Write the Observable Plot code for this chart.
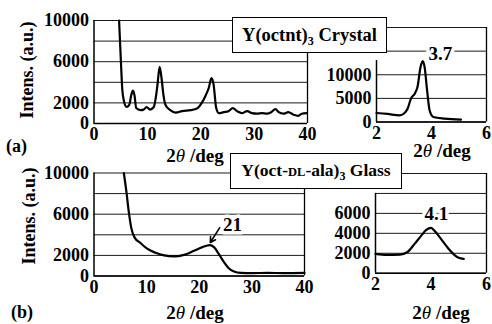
<!DOCTYPE html>
<html><head><meta charset="utf-8">
<script src="https://cdn.jsdelivr.net/npm/d3@7"></script>
<script src="https://cdn.jsdelivr.net/npm/@observablehq/plot@0.6"></script>
<style>
html,body{margin:0;padding:0;background:#fff;}
#wrap{position:relative;width:492px;height:324px;overflow:hidden;font-family:'Liberation Serif','Times New Roman',serif;}
#wrap > div{position:absolute;}
#wrap svg{display:block;overflow:visible;}
#wrap svg text{font-family:'Liberation Serif','Times New Roman',serif !important;font-weight:bold;}
#wrap svg tspan.it{font-style:italic;font-weight:normal;}
</style></head><body><div id="wrap"></div>
<script>
// (a) Y(octnt)3 crystal, wide range
const crystalWideX = [4.7, 5.0, 5.3, 5.6, 6.1, 6.6, 7.0, 7.3, 7.6, 7.9, 8.7, 9.3, 9.85, 10.5, 11.2, 11.6, 11.9, 12.3, 12.7, 13.0, 13.4, 14.3, 15.3, 16.5, 18.1, 19.3, 20.3, 20.9, 21.5, 22.0, 22.4, 22.9, 23.4, 24.3, 25.2, 26.0, 26.8, 27.7, 28.7, 29.6, 30.5, 31.5, 32.4, 33.2, 34.0, 34.6, 35.5, 36.4, 37.4, 38.3, 38.9, 39.9];
const crystalWideY = [10000, 6500, 3300, 2200, 1600, 1800, 2800, 3200, 2700, 1500, 1300, 1350, 1600, 1350, 1600, 2600, 3800, 5500, 4200, 2800, 1800, 1300, 1060, 1200, 1300, 1450, 2100, 2700, 3450, 4400, 3800, 1500, 1000, 1100, 1200, 1500, 1200, 1000, 1200, 1000, 950, 1000, 950, 1100, 1400, 1100, 950, 1100, 850, 750, 950, 1000];
// (a) small-angle
const crystalSmallX = [2.0, 2.4, 2.84, 3.0, 3.13, 3.25, 3.40, 3.49, 3.6, 3.68, 3.75, 3.84, 3.93, 4.07, 4.48, 5.07];
const crystalSmallY = [1900, 1700, 1400, 1800, 2800, 4900, 6100, 7400, 11600, 12900, 11600, 6700, 2500, 1050, 700, 500];
// (b) Y(oct-DL-ala)3 glass, wide range
const glassWideX = [5.67, 6.18, 6.62, 7.07, 7.7, 8.84, 10.1, 11.7, 13.3, 15.2, 17.1, 19.0, 20.6, 22.0, 22.8, 23.7, 24.7, 25.6, 26.6, 27.9, 30, 33, 36, 40];
const glassWideY = [10000, 8100, 6200, 4700, 3750, 3200, 2650, 2250, 2000, 1900, 2050, 2450, 2800, 3000, 2800, 2150, 1350, 760, 430, 300, 280, 300, 280, 300];
// (b) small-angle
const glassSmallX = [2.0, 2.41, 2.88, 3.14, 3.41, 3.65, 3.83, 4.0, 4.12, 4.36, 4.59, 4.83, 5.0, 5.18];
const glassSmallY = [1940, 1840, 1870, 2100, 2940, 3770, 4340, 4540, 4270, 3440, 2600, 1870, 1540, 1440];

// tick labels / grid
const wideXTicks = [0, 10, 20, 30, 40];
const smallXTicks = [2, 4, 6];
const wideYTicks = [0, 2000, 6000, 10000];
const wideGrid = [0, 2000, 4000, 6000, 8000, 10000];
const crystalSmallYTicks = [0, 5000, 10000];
const crystalSmallGrid = [0, 5000, 10000, 15000, 20000];
const glassSmallYTicks = [0, 2000, 4000, 6000];
const glassSmallGrid = [0, 2000, 4000, 6000, 8000, 10000];

// annotations
const crystalPeakLabel = [{x: 4.32, y: 14500, t: "3.7"}];
const glassPeakLabel = [{x: 4.19, y: 5900, t: "4.1"}];
const glassWidePeakLabel = [{x: 26.3, y: 5000, t: "21"}];
const glassWideArrow = [{x1: 23.9, y1: 4700, x2: 22.1, y2: 3250}];

const FONT = "'Liberation Serif', 'Times New Roman', serif";
const wrap = document.getElementById("wrap");

function panel(o) {
  const data = o.xs.map((x, i) => ({x, y: o.ys[i]}));
  const marks = [
    Plot.ruleY(o.grid, {stroke: "#1a1a1a", strokeWidth: 1}),
    Plot.ruleX([{x: o.xDomain[1], y1: o.yDomain[0], y2: o.yDomain[1]}], {x: "x", y1: "y1", y2: "y2", stroke: "#000", strokeWidth: 1.3}),
    Plot.ruleX([{x: o.xDomain[0], y1: o.yDomain[0], y2: o.axisTop}], {x: "x", y1: "y1", y2: "y2", stroke: "#000", strokeWidth: 1.5}),
    Plot.ruleY([0], {stroke: "#000", strokeWidth: 1.5}),
    Plot.line(data, {x: "x", y: "y", stroke: "#000", strokeWidth: 2.2, curve: "monotone-x"})
  ];
  if (o.arrows) marks.push(Plot.arrow(o.arrows, {x1: "x1", y1: "y1", x2: "x2", y2: "y2", stroke: "#000", strokeWidth: 1.6, headLength: 7}));
  if (o.labels) marks.push(Plot.text(o.labels, {x: "x", y: "y", text: "t", fill: "#000", stroke: "white", strokeWidth: 7, fontSize: 19, fontWeight: "bold"}));
  const svg = Plot.plot({
    width: o.width, height: o.height,
    marginLeft: o.ml, marginRight: o.mr, marginTop: o.mt, marginBottom: o.mb,
    style: {fontFamily: FONT, fontSize: "18px", fontWeight: "bold", background: "transparent", color: "#000", overflow: "visible"},
    x: {domain: o.xDomain, ticks: o.xTicks, tickSize: 0, tickPadding: 4, label: null, tickFormat: d => String(d)},
    y: {domain: o.yDomain, ticks: o.yTicks, tickSize: 0, tickPadding: 5, label: null, tickFormat: d => String(d)},
    marks
  });
  const div = document.createElement("div");
  div.style.left = o.left + "px";
  div.style.top = o.top + "px";
  div.appendChild(svg);
  wrap.appendChild(div);
}

panel({left: 0, top: 0, width: 320, height: 165, ml: 93.5, mr: 13, mt: 20, mb: 42,
  xDomain: [0, 40], xTicks: wideXTicks, yDomain: [0, 10000], yTicks: wideYTicks, grid: wideGrid, axisTop: 10000,
  xs: crystalWideX, ys: crystalWideY});
panel({left: 310, top: 0, width: 182, height: 165, ml: 66, mr: 6, mt: 27, mb: 43.5,
  xDomain: [2, 6], xTicks: smallXTicks, yDomain: [0, 20000], yTicks: crystalSmallYTicks, grid: crystalSmallGrid, axisTop: 13000,
  xs: crystalSmallX, ys: crystalSmallY, labels: crystalPeakLabel});
panel({left: 0, top: 160, width: 320, height: 164, ml: 93.5, mr: 16, mt: 12.5, mb: 48.5,
  xDomain: [0, 40], xTicks: wideXTicks, yDomain: [0, 10000], yTicks: wideYTicks, grid: wideGrid, axisTop: 10000,
  xs: glassWideX, ys: glassWideY, labels: glassWidePeakLabel, arrows: glassWideArrow});
panel({left: 310, top: 160, width: 182, height: 164, ml: 65, mr: 6, mt: 13, mb: 51.3,
  xDomain: [2, 6], xTicks: smallXTicks, yDomain: [0, 10000], yTicks: glassSmallYTicks, grid: glassSmallGrid, axisTop: 8000,
  xs: glassSmallX, ys: glassSmallY, labels: glassPeakLabel});

// overlay: titles, boxes, panel letters
const ov = d3.create("svg").attr("width", 492).attr("height", 324)
  .style("position", "absolute").style("left", "0").style("top", "0")
  .style("font-family", FONT).style("font-weight", "bold").style("font-size", "18px");

const yTitles = [{x: 27, y: 70}, {x: 29, y: 216}];
yTitles.forEach(p => ov.append("text").attr("transform", `translate(${p.x},${p.y}) rotate(-90)`)
  .attr("text-anchor", "middle").attr("dominant-baseline", "central").text("Intens. (a.u.)"));

const xTitles = [{x: 195, y: 162}, {x: 442, y: 157}, {x: 195, y: 319}, {x: 441, y: 319}];
xTitles.forEach(p => {
  const t = ov.append("text").attr("x", p.x).attr("y", p.y).attr("text-anchor", "middle").style("font-size", "19px");
  t.append("tspan").text("2");
  t.append("tspan").attr("class", "it").text("θ");
  t.append("tspan").text(" /deg");
});

ov.append("text").attr("x", 6).attr("y", 152).text("(a)");
ov.append("text").attr("x", 11).attr("y", 318).text("(b)");

// boxes
ov.append("rect").attr("x", 232.5).attr("y", 17.5).attr("width", 154).attr("height", 35).attr("fill", "#fff").attr("stroke", "#000").attr("stroke-width", 1);
const t1 = ov.append("text").attr("x", 309.5).attr("y", 41).attr("text-anchor", "middle").style("font-size", "18.5px");
t1.append("tspan").text("Y(octnt)");
t1.append("tspan").attr("dy", 4).style("font-size", "12px").text("3");
t1.append("tspan").attr("dy", -4).text(" Crystal");

ov.append("rect").attr("x", 230.5).attr("y", 153.5).attr("width", 171).attr("height", 35).attr("fill", "#fff").attr("stroke", "#000").attr("stroke-width", 1);
const t2 = ov.append("text").attr("x", 316).attr("y", 176).attr("text-anchor", "middle").style("font-size", "17.5px");
t2.append("tspan").text("Y(oct-");
t2.append("tspan").style("font-size", "12.5px").text("DL");
t2.append("tspan").text("-ala)");
t2.append("tspan").attr("dy", 4).style("font-size", "12px").text("3");
t2.append("tspan").attr("dy", -4).text(" Glass");

wrap.appendChild(ov.node());
</script></body></html>
